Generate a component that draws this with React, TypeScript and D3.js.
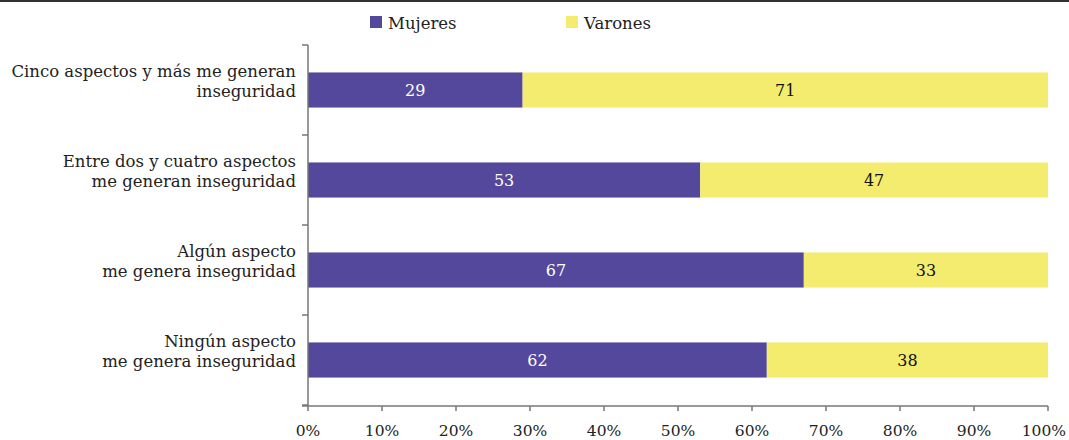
import React from 'react';
import * as d3 from 'd3';

// categories top → bottom, each label split over two lines
const categories = [
  ['Cinco aspectos y más me generan', 'inseguridad'],
  ['Entre dos y cuatro aspectos', 'me generan inseguridad'],
  ['Algún aspecto', 'me genera inseguridad'],
  ['Ningún aspecto', 'me genera inseguridad'],
];
const mujeres = [29, 53, 67, 62];
const varones = [71, 47, 33, 38];
const xTicks = [0, 10, 20, 30, 40, 50, 60, 70, 80, 90, 100];

const W = 1069;
const H = 440;
const FONT = '"DejaVu Serif", serif';
const C_MUJ = '#54489c';
const C_VAR = '#f4ec6e';
const AXIS = '#777';
const INK = '#222';

export default function App() {
  const x = d3.scaleLinear().domain([0, 100]).range([308, 1048]);
  const keys = categories.map((_, i) => String(i));
  const y = d3.scaleBand().domain(keys).range([45, 405]).paddingInner(0.61).paddingOuter(0.305);
  const bh = y.bandwidth();
  const step = y.step();

  return (
    <svg width={W} height={H} style={{ position: 'absolute', left: 0, top: 0 }} fontFamily={FONT}>
      <rect x={0} y={0} width={W} height={2} fill="#333" />

      {/* legend */}
      <rect x={370} y={16} width={12} height={12} fill={C_MUJ} />
      <text x={388} y={29} fontSize={16.5} fill={INK}>Mujeres</text>
      <rect x={566} y={16} width={12} height={12} fill={C_VAR} />
      <text x={584} y={29} fontSize={16.5} fill={INK}>Varones</text>

      {/* bars */}
      {keys.map((k, i) => {
        const y0 = y(k)!;
        const cy = y0 + bh / 2;
        return (
          <g key={k}>
            <rect x={x(0)} y={y0} width={x(mujeres[i]) - x(0)} height={bh} fill={C_MUJ} />
            <rect x={x(mujeres[i])} y={y0} width={x(100) - x(mujeres[i])} height={bh} fill={C_VAR} />
            <text x={(x(0) + x(mujeres[i])) / 2} y={cy + 6} textAnchor="middle" fontSize={16} fill="#fff">
              {mujeres[i]}
            </text>
            <text x={(x(mujeres[i]) + x(100)) / 2} y={cy + 6} textAnchor="middle" fontSize={16} fill="#111">
              {varones[i]}
            </text>
            <text textAnchor="end" fontSize={16.5} fill={INK}>
              <tspan x={296} y={cy - 13}>{categories[i][0]}</tspan>
              <tspan x={296} y={cy + 7}>{categories[i][1]}</tspan>
            </text>
          </g>
        );
      })}

      {/* y axis */}
      <line x1={308} x2={308} y1={45} y2={406} stroke={AXIS} strokeWidth={1.5} />
      {d3.range(categories.length + 1).map(i => (
        <line key={i} x1={302} x2={308} y1={45 + i * step} y2={45 + i * step} stroke={AXIS} strokeWidth={1.5} />
      ))}

      {/* x axis */}
      <line x1={x(0) - 6} x2={x(100)} y1={406} y2={406} stroke={AXIS} strokeWidth={1.5} />
      {xTicks.map(t => (
        <g key={t}>
          <line x1={x(t)} x2={x(t)} y1={406} y2={411} stroke={AXIS} strokeWidth={1.5} />
          <text
            x={t === 100 ? W - 3 : x(t)}
            y={436}
            textAnchor={t === 100 ? 'end' : 'middle'}
            fontSize={15.5}
            fill={INK}
          >
            {t}%
          </text>
        </g>
      ))}
    </svg>
  );
}
